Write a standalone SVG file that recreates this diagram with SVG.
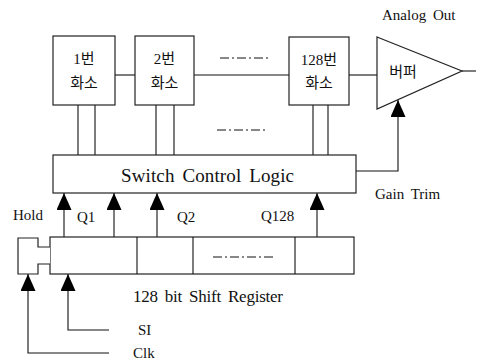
<svg xmlns="http://www.w3.org/2000/svg" width="486" height="363" viewBox="0 0 486 363">
<defs>
<style>
.b{fill:#fff;stroke:#222;stroke-width:1.2}
.l{fill:none;stroke:#111;stroke-width:1.1}
.dd{fill:none;stroke:#111;stroke-width:1;stroke-dasharray:9,3,2,3}
.t{font-family:"Liberation Serif","Times New Roman",serif;font-size:15px;fill:#111;word-spacing:3px}
.k{font-family:"Liberation Serif","Noto Sans CJK KR",sans-serif;font-size:15px;fill:#111;text-anchor:middle}
</style>
<marker id="ah" viewBox="0 0 17 15" refX="17" refY="7.5" markerWidth="17" markerHeight="15" markerUnits="userSpaceOnUse" orient="auto">
<path d="M0,0 L17,7.5 L0,15 z" fill="#000"/>
</marker>
</defs>
<g id="connectors">
<path class="l" d="M115,75 H135"/>
<path class="l" d="M194,75 H289"/>
<path class="l" d="M349,75 H377"/>
<path class="l" d="M462,71 H476"/>
<path class="l" d="M78,105 V155 M95,105 V155"/>
<path class="l" d="M156,105 V155 M174,105 V155"/>
<path class="l" d="M313,105 V155 M328,105 V155"/>
<path class="l" d="M356,171 H398 V100" marker-end="url(#ah)"/>
<path class="l" d="M64,237 V193" marker-end="url(#ah)"/>
<path class="l" d="M114,237 V193" marker-end="url(#ah)"/>
<path class="l" d="M157,237 V193" marker-end="url(#ah)"/>
<path class="l" d="M317,237 V193" marker-end="url(#ah)"/>
<path class="l" d="M109,330 H68 V274" marker-end="url(#ah)"/>
<path class="l" d="M109,353 H28 V274" marker-end="url(#ah)"/>
<path class="dd" d="M220,58 H268"/>
<path class="dd" d="M217,130 H265"/>
</g>
<g id="pixel1">
<rect class="b" x="53" y="36" width="62" height="69"/>
<text class="k" x="84" y="64">1번</text>
<text class="k" x="84" y="88">화소</text>
</g>
<g id="pixel2">
<rect class="b" x="135" y="36" width="59" height="69"/>
<text class="k" x="164.5" y="64">2번</text>
<text class="k" x="164.5" y="88">화소</text>
</g>
<g id="pixel128">
<rect class="b" x="289" y="37" width="60" height="68"/>
<text class="k" x="319" y="65">128번</text>
<text class="k" x="319" y="88">화소</text>
</g>
<g id="buffer">
<path class="b" d="M377,37 L462,71 L377,109 Z"/>
<text class="k" x="403" y="77">버퍼</text>
<text class="t" x="382" y="20">Analog Out</text>
</g>
<g id="switch-control-logic">
<rect class="b" x="53" y="155" width="303" height="38"/>
<text class="t" x="121" y="182" style="font-size:19px" textLength="173" lengthAdjust="spacing">Switch Control Logic</text>
</g>
<g id="shift-register">
<rect class="b" x="50" y="237" width="304" height="37"/>
<path class="l" d="M137,237 V274 M193,237 V274 M295,237 V274"/>
<path class="dd" d="M213,257 H276"/>
<text class="t" x="133" y="302" style="font-size:17px" textLength="150" lengthAdjust="spacing">128 bit Shift Register</text>
</g>
<g id="hold">
<path class="b" d="M50,247 H38 V238 H18 V274 H38 V264 H50"/>
<text class="t" x="13" y="220">Hold</text>
</g>
<g id="labels">
<text class="t" x="77" y="222">Q1</text>
<text class="t" x="177" y="222">Q2</text>
<text class="t" x="261" y="221">Q128</text>
<text class="t" x="375" y="199">Gain Trim</text>
<text class="t" x="138" y="335">SI</text>
<text class="t" x="133" y="358">Clk</text>
</g>
</svg>
